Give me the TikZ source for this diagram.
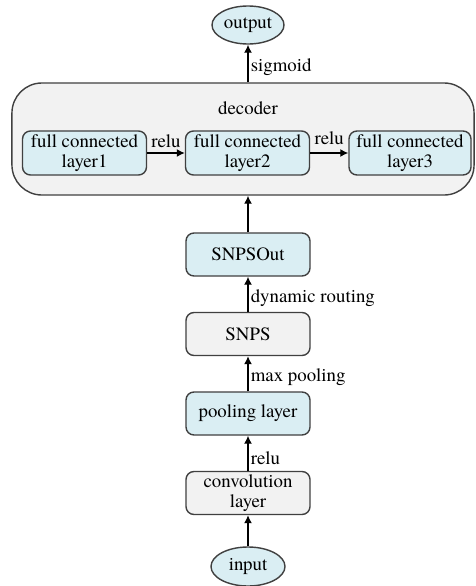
\documentclass[tikz,border=0pt]{standalone}
\usepackage{fontspec}
\setmainfont{texgyretermes}[Extension=.otf,UprightFont=*-regular,BoldFont=*-bold]
\usetikzlibrary{shapes.geometric,arrows.meta}
\definecolor{boxblue}{HTML}{DAEEF3}
\definecolor{boxgray}{HTML}{F2F2F2}
\definecolor{edgegray}{HTML}{404040}
\tikzset{
  layer/.style={draw=edgegray,line width=1pt,rounded corners=0.2cm,minimum width=3.1cm,minimum height=1.075cm,align=center,inner sep=0pt},
  bluelayer/.style={layer,fill=boxblue},
  graylayer/.style={layer,fill=boxgray},
  fclayer/.style={bluelayer,minimum width=3.1cm,minimum height=1.1cm},
  term/.style={ellipse,draw=edgegray,line width=1pt,fill=boxblue,minimum width=1.8cm,minimum height=0.95cm,inner sep=0pt},
  arr/.style={-{Latex[length=2mm,width=2mm]},line width=1pt},
  lbl/.style={inner sep=1.5pt}
}
\begin{document}
\begin{tikzpicture}[x=0.025cm,y=-0.025cm,font=\fontsize{13.4}{14.4}\selectfont]
\useasboundingbox (0,0) rectangle (475,586);
% decoder
\node[graylayer,rounded corners=0.75cm,minimum width=11.55cm,minimum height=2.8cm] (dec) at (243,139) {};
\node (dectitle) at (248,108) {decoder};
\node[fclayer] (fc1) at (84.5,153) {full connected\\layer1};
\node[fclayer] (fc2) at (247.5,153) {full connected\\layer2};
\node[fclayer,minimum width=3.05cm] (fc3) at (410,153) {full connected\\layer3};
\draw[arr] (fc1) -- node[lbl,above,yshift=2pt] {relu} (fc2);
\draw[arr] (fc2) -- node[lbl,above,yshift=4pt] {relu} (fc3);
% 出力
\node[term] (out) at (248,25) {output};
\draw[arr] (dec.north -| out.south) -- node[lbl,right,pos=0.4] {sigmoid} (out.south);
% 本体
\node[bluelayer] (snpsout) at (248,254.5) {SNPSOut};
\node[graylayer] (snps) at (248,334) {SNPS};
\node[bluelayer] (pool) at (248,413.5) {pooling layer};
\node[graylayer] (conv) at (248,493) {convolution\\layer};
\node[term,minimum width=1.85cm,minimum height=0.975cm] (in) at (248,566.5) {input};
\draw[arr] (snpsout.north) -- (dec.south -| snpsout.north);
\draw[arr] (snps.north) -- node[lbl,right,pos=0.4] {dynamic routing} (snpsout.south);
\draw[arr] (pool.north) -- node[lbl,right,pos=0.4] {max pooling} (snps.south);
\draw[arr] (conv.north) -- node[lbl,right,pos=0.35] {relu} (pool.south);
\draw[arr] (in.north) -- (conv.south);
\end{tikzpicture}
\end{document}
